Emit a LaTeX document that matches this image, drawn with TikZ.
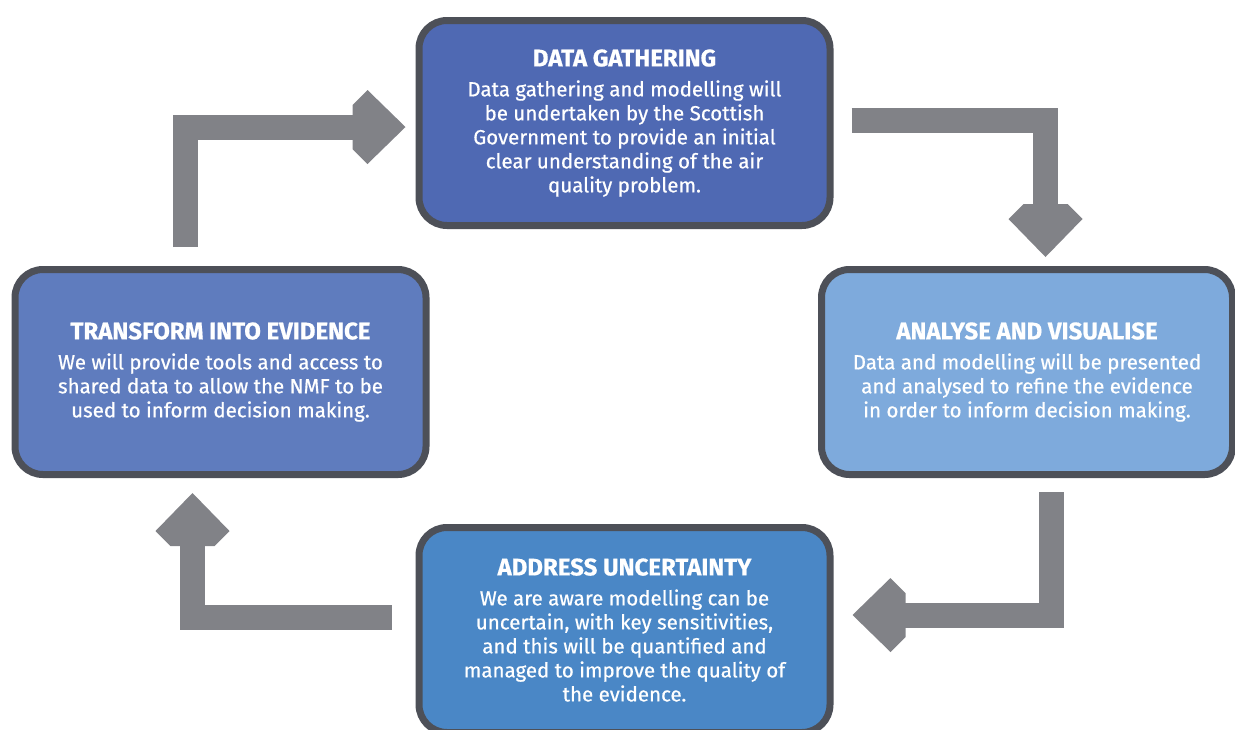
\documentclass[tikz,border=0pt]{standalone}
\usepackage{fontspec}
\setmainfont{Fira Sans}
\newfontfamily\stagefont{Fira Sans}[FakeBold=0.6]
\usepackage{tikz}
\usetikzlibrary{
    arrows.meta,
    positioning,
    calc
}
\definecolor{framegray}{HTML}{4D5058}
\definecolor{arrowgray}{HTML}{818287}
\definecolor{gatherblue}{HTML}{4F69B3}
\definecolor{transformblue}{HTML}{5F7CBE}
\definecolor{analyseblue}{HTML}{7EAADC}
\definecolor{addressblue}{HTML}{4A87C6}
\pgfdeclarearrow{
    name = Chevron,
    setup code = {
        \pgfarrowssettipend{0pt}
        \pgfarrowssetlineend{-50pt}
        \pgfarrowssetvisualbackend{-53pt}
        \pgfarrowssetbackend{-53pt}
        \pgfarrowshullpoint{0pt}{0pt}
        \pgfarrowsupperhullpoint{-38pt}{37pt}
        \pgfarrowsupperhullpoint{-53pt}{22pt}
    },
    drawing code = {
        \pgfpathmoveto{\pgfqpoint{0pt}{0pt}}
        \pgfpathlineto{\pgfqpoint{-38pt}{37pt}}
        \pgfpathlineto{\pgfqpoint{-53pt}{22pt}}
        \pgfpathlineto{\pgfqpoint{-53pt}{-22pt}}
        \pgfpathlineto{\pgfqpoint{-38pt}{-37pt}}
        \pgfpathclose
        \pgfusepathqfill
    }
}
\newcommand{\stagetitle}[1]{{\fontsize{24}{24}\selectfont\bfseries #1}\\[6pt]}
\tikzset{
    stage/.style={
        rectangle,
        rounded corners=28pt,
        draw=framegray,
        line width=7pt,
        align=center,
        text=white,
        minimum width=411pt,
        minimum height=205pt,
        font=\stagefont\fontsize{20.5}{24}\selectfont
    },
    flow/.style={
        -Chevron,
        color=arrowgray,
        line width=25pt
    }
}

\begin{document}
\begin{tikzpicture}[x=1pt,y=-1pt]
\useasboundingbox (0,0) rectangle (1235,729);

\node[stage, fill=gatherblue] (gather) at (624.5,123)
    {\stagetitle{DATA GATHERING}Data gathering and modelling will\\be undertaken by the Scottish\\Government to provide an initial\\clear understanding of the air\\quality problem.};
\node[stage, fill=transformblue] (transform) at (220.5,372)
    {\stagetitle{TRANSFORM INTO EVIDENCE}We will provide tools and access to\\shared data to allow the NMF to be\\used to inform decision making.};
\node[stage, fill=analyseblue] (analyse) at (1027,372)
    {\stagetitle{ANALYSE AND VISUALISE}Data and modelling will be presented\\and analysed to refine the evidence\\in order to inform decision making.};
\node[stage, fill=addressblue] (address) at (624.5,630)
    {\stagetitle{ADDRESS UNCERTAINTY}We are aware modelling can be\\uncertain, with key sensitivities,\\and this will be quantified and\\managed to improve the quality of\\the evidence.};

\draw[flow, shorten <=19pt, shorten >=10pt] ([xshift=-35.5pt]transform.north) |- ([yshift=-4pt]gather.west);
\draw[flow, shorten <=18pt, shorten >=9pt] ([yshift=3pt]gather.east) -| ([xshift=18.5pt]analyse.north);
\draw[flow, shorten <=14pt, shorten >=19pt] ([xshift=24.5pt]analyse.south) |- ([yshift=15pt]address.east);
\draw[flow, shorten <=24pt, shorten >=15pt] ([yshift=13pt]address.west) -| ([xshift=-28pt]transform.south);
\end{tikzpicture}
\end{document}
